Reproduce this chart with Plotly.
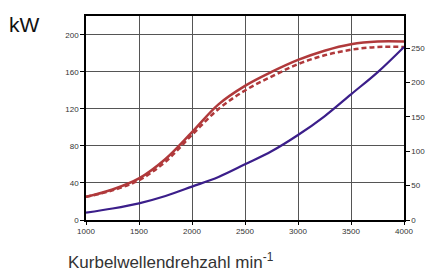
import plotly.graph_objects as go

rpm = [1000, 1250, 1500, 1750, 2000, 2250, 2500, 2750, 3000, 3250, 3500, 3750, 4000]
power_solid = [25, 33, 45, 66, 95, 125, 145, 160, 173, 183, 190, 193, 193]
power_dashed = [25, 32, 43, 63, 92, 120, 140, 155, 168.5, 178, 184, 187, 187]
torque_blue = [10.6, 16.7, 24.3, 35, 48.6, 62.6, 81, 100, 123.7, 151, 183, 215, 252]

left_ticks = [0, 40, 80, 120, 160, 200]
right_ticks = [0, 50, 100, 150, 200, 250]
x_ticks = [1000, 1500, 2000, 2500, 3000, 3500, 4000]

red = "#b0393b"
blue = "#3b1e8a"

fig = go.Figure()
fig.add_trace(go.Scatter(x=rpm, y=power_solid, mode="lines", line=dict(color=red, width=2.5, shape="spline")))
fig.add_trace(go.Scatter(x=rpm, y=power_dashed, mode="lines", line=dict(color=red, width=2.5, dash="5px,3px", shape="spline")))
fig.add_trace(go.Scatter(x=rpm, y=torque_blue, mode="lines", yaxis="y2", line=dict(color=blue, width=2.2, shape="spline")))

tickfont = dict(family="Liberation Sans, Arial, sans-serif", size=8, color="#333")
fig.update_layout(
    width=426, height=271,
    margin=dict(l=86, r=22, t=16, b=51, autoexpand=False),
    paper_bgcolor="white", plot_bgcolor="white",
    showlegend=False,
    xaxis=dict(range=[1000, 4000], tickvals=x_ticks, showgrid=True, gridcolor="#555", gridwidth=1.3,
               showline=True, linecolor="black", linewidth=1.5, mirror=True, ticks="outside",
               ticklen=3, tickcolor="black", tickfont=tickfont, zeroline=False, automargin=False),
    yaxis=dict(range=[0, 220.5], tickvals=left_ticks, showgrid=True, gridcolor="#555", gridwidth=1.3,
               showline=True, linecolor="black", linewidth=1.5, mirror=True, ticks="outside",
               ticklen=4, tickcolor="black", tickfont=tickfont, zeroline=False, automargin=False),
    yaxis2=dict(range=[0, 297], tickvals=right_ticks, overlaying="y", side="right", showgrid=False,
                showline=True, linecolor="black", linewidth=1.5, ticks="outside", ticklen=4,
                tickcolor="black", tickfont=tickfont, zeroline=False, automargin=False),
    annotations=[
        dict(text="kW", xref="paper", yref="paper", x=-0.248, y=0.959, xanchor="left", yanchor="middle",
             showarrow=False, font=dict(family="Liberation Sans, Arial, sans-serif", size=21, color="#111")),
        dict(text="Kurbelwellendrehzahl min<sup>-1</sup>", xref="paper", yref="paper", x=0.267, y=-0.265,
             xanchor="center", yanchor="bottom", showarrow=False,
             font=dict(family="Liberation Sans, Arial, sans-serif", size=17, color="#333")),
    ],
)

fig.write_html("out.html", config={"displayModeBar": False},
               post_script="document.body.style.margin='0';document.body.style.overflow='hidden';")
